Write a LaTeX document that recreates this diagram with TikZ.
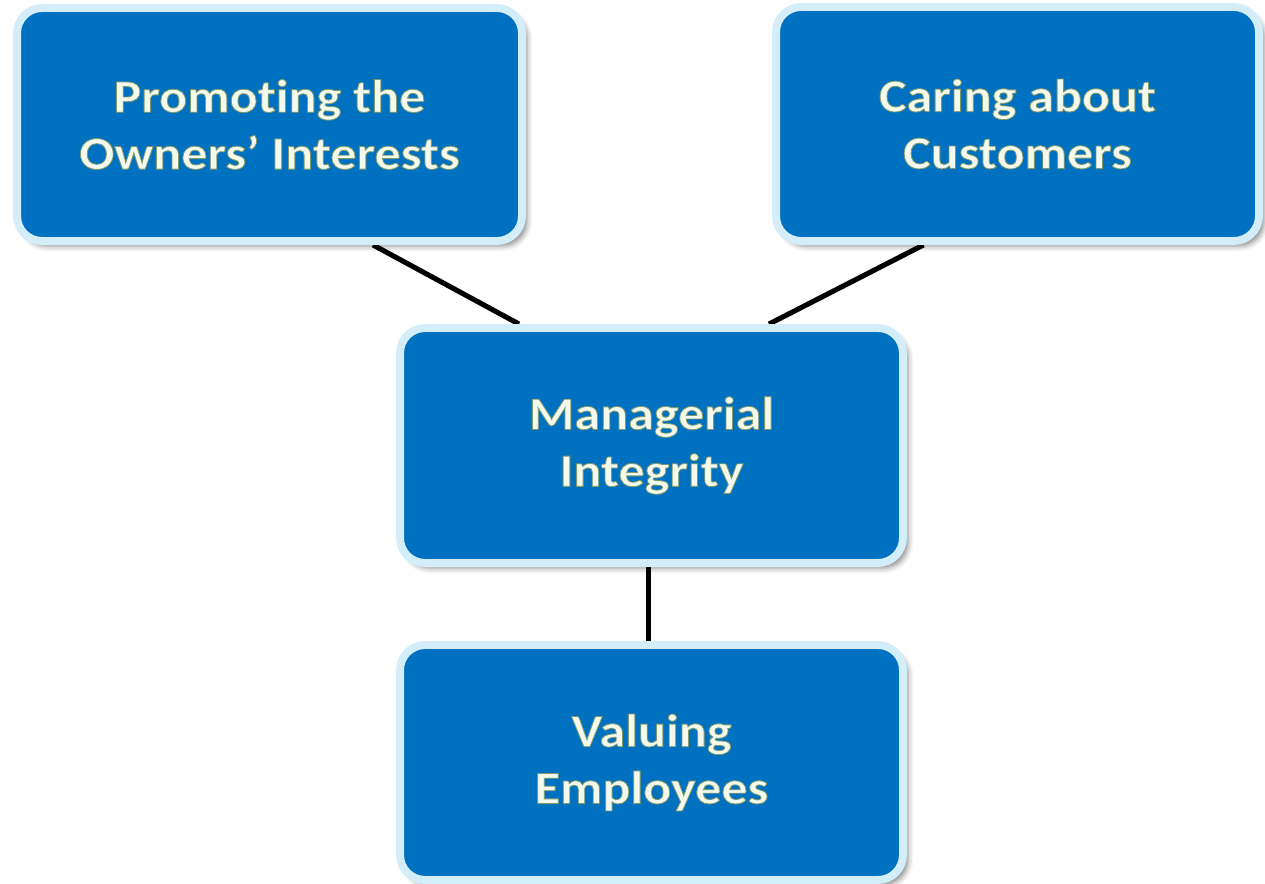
\documentclass[tikz,border=0pt]{standalone}
\usepackage{fontspec}
\setmainfont{Carlito}
\newfontfamily\boxfont{Carlito}[FakeStretch=1.12, Ligatures=NoCommon, BoldFeatures={FakeBold=1.8}]
\usepackage{tikz}
\usetikzlibrary{shadows, shadows.blur, backgrounds, positioning}

\definecolor{boxblue}{HTML}{0070C0}
\definecolor{boxrim}{HTML}{D3EDF9}
% light letters with a green rim (fill colour, stroke colour)
\newcommand\glowon{\special{pdf:bcolor [0.957 0.976 0.933] [0.50 0.60 0.42]}}
\newcommand\glowoff{\special{pdf:ecolor}}

\begin{document}
\begin{tikzpicture}[x=0.02cm, y=-0.02cm,
    goalbox/.style={draw=boxrim, line width=4.5pt, fill=boxblue, rounded corners=0.5cm,
        blur shadow={shadow xshift=3pt, shadow yshift=-3pt, shadow blur radius=3pt, shadow opacity=45},
        align=center, font=\boxfont\bfseries\fontsize{26.5}{32.4}\selectfont},
    link/.style={line width=2.9pt, black}]

            % Khung ảnh
            \useasboundingbox (0,0) rectangle (1265,884);

            % Các ô
            \node[goalbox, minimum width=10.1cm, minimum height=4.66cm] (promo) at (269.5,124.5) {\glowon Promoting the\\Owners’ Interests\glowoff};
            \node[goalbox, minimum width=9.66cm, minimum height=4.68cm] (care) at (1017.5,124) {\glowon Caring about\\Customers\glowoff};
            \node[goalbox, minimum width=10.06cm, minimum height=4.7cm] (integ) at (651.5,445.5) {\glowon Managerial\\Integrity\glowoff};
            \node[goalbox, minimum width=10.06cm, minimum height=4.7cm] (value) at (651.5,762.5) {\glowon Valuing\\Employees\glowoff};

            % Các đường nối
            \begin{scope}[on background layer]
            \draw[link] ([xshift=2.07cm]promo.south) -- ([xshift=-2.65cm]integ.north); % nối ô trái
            \draw[link] ([xshift=-1.88cm]care.south) -- ([xshift=2.35cm]integ.north);  % nối ô phải
            \draw[link] ([xshift=-0.06cm]integ.south) -- ([xshift=-0.06cm]value.north); % nối ô dưới
            \end{scope}

\end{tikzpicture}
\end{document}
